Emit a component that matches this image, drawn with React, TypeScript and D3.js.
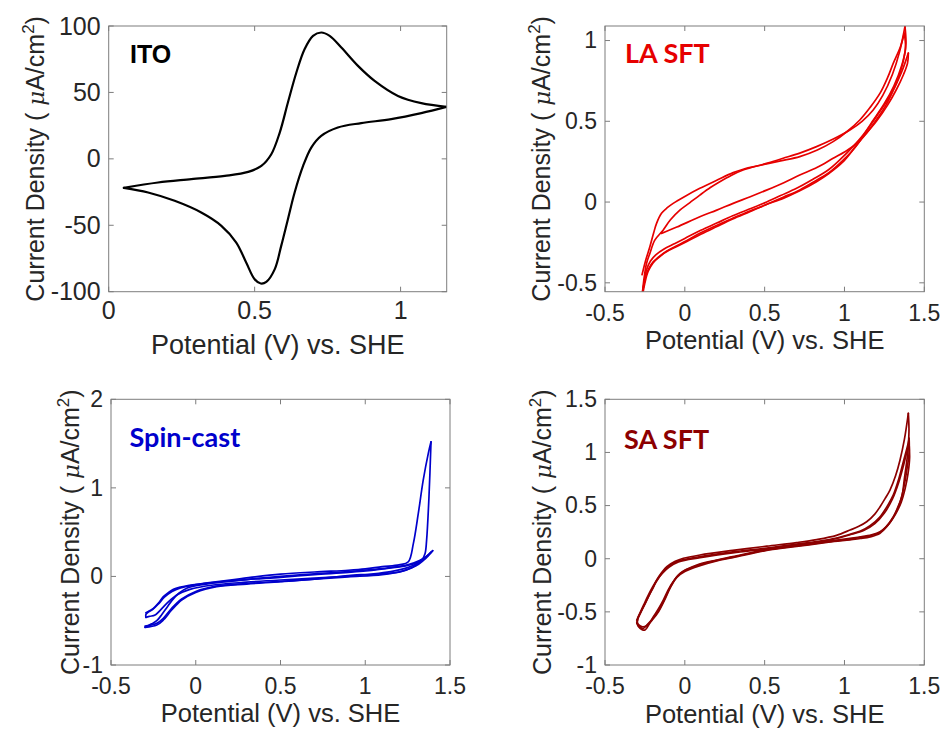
import React from 'react';
import * as d3 from 'd3';

type Pt = [number, number];

// ---------- ITO (single cycle, µA/cm²) ----------
const itoForward: Pt[] = [
  [0.052, -21.8], [0.169, -17.8], [0.283, -15.3], [0.398, -12.8], [0.478, -9.8], [0.523, -5.3],
  [0.557, 3.5], [0.586, 19.8], [0.614, 42.4], [0.643, 65], [0.671, 82.5], [0.7, 92.6], [0.728, 95.1],
  [0.757, 92.6], [0.797, 83.8], [0.854, 70], [0.911, 58.7], [0.991, 47.4], [1.071, 41.9], [1.157, 39.1],
];
const itoReverse: Pt[] = [
  [1.157, 39.1], [1.071, 34.4], [0.968, 29.9], [0.865, 26.9], [0.785, 23.6], [0.728, 17.3], [0.694, 8.5],
  [0.666, -5.3], [0.637, -25.3], [0.614, -45.4], [0.591, -65.5], [0.569, -83], [0.54, -92.6], [0.521, -93.8],
  [0.5, -90.6], [0.471, -78], [0.437, -63], [0.386, -50.4], [0.317, -40.4], [0.226, -31.6], [0.135, -25.3],
  [0.052, -21.8],
];

// ---------- LA SFT ----------
const laFwd0: Pt[] = [
  [-0.146, -0.194], [-0.05, -0.155], [0.094, -0.091], [0.2, -0.05], [0.303, -0.008], [0.41, 0.033],
  [0.512, 0.074], [0.62, 0.12], [0.72, 0.167], [0.83, 0.215], [0.929, 0.271], [1.0, 0.31], [1.06, 0.35],
  [1.14, 0.43], [1.2, 0.51], [1.26, 0.6], [1.31, 0.7], [1.36, 0.81], [1.4, 0.922],
];
const laRev0: Pt[] = [
  [1.4, 0.922], [1.395, 0.86], [1.37, 0.79], [1.327, 0.7], [1.27, 0.6], [1.2, 0.5], [1.138, 0.426],
  [1.07, 0.345], [0.992, 0.25], [0.9, 0.175], [0.825, 0.126], [0.72, 0.07], [0.616, 0.023], [0.5, -0.02],
  [0.407, -0.06], [0.3, -0.105], [0.198, -0.153], [0.1, -0.2], [0.01, -0.246], [-0.06, -0.28],
  [-0.115, -0.308], [-0.16, -0.34], [-0.198, -0.375], [-0.23, -0.43], [-0.25, -0.5], [-0.261, -0.556],
];
const laFwd1: Pt[] = [
  [-0.268, -0.45], [-0.245, -0.36], [-0.219, -0.277], [-0.195, -0.19], [-0.177, -0.132], [-0.146, -0.07],
  [-0.11, -0.035], [-0.073, -0.008], [0.0, 0.035], [0.094, 0.085], [0.2, 0.135], [0.303, 0.182],
  [0.38, 0.208], [0.449, 0.223], [0.53, 0.245], [0.616, 0.271], [0.72, 0.303], [0.825, 0.343],
  [0.93, 0.39], [1.034, 0.446], [1.11, 0.5], [1.18, 0.57], [1.24, 0.66], [1.3, 0.79], [1.345, 0.93],
  [1.379, 1.087],
];
const laRev1: Pt[] = [
  [1.379, 1.087], [1.385, 0.98], [1.37, 0.88], [1.327, 0.74], [1.265, 0.625], [1.2, 0.53], [1.138, 0.44],
  [1.06, 0.33], [0.992, 0.26], [0.9, 0.18], [0.825, 0.135], [0.72, 0.075], [0.616, 0.03], [0.5, -0.02],
  [0.407, -0.055], [0.3, -0.1], [0.198, -0.145], [0.1, -0.19], [0.01, -0.24], [-0.06, -0.275],
  [-0.115, -0.305], [-0.17, -0.345], [-0.198, -0.37], [-0.225, -0.41], [-0.245, -0.46], [-0.26, -0.53],
  [-0.265, -0.556],
];
const laFwd2: Pt[] = [
  [-0.265, -0.556], [-0.255, -0.47], [-0.24, -0.38], [-0.219, -0.318], [-0.188, -0.236], [-0.136, -0.174],
  [-0.09, -0.11], [-0.031, -0.05], [0.03, -0.005], [0.094, 0.043], [0.16, 0.09], [0.219, 0.126],
  [0.29, 0.165], [0.365, 0.198], [0.44, 0.22], [0.512, 0.236], [0.6, 0.255], [0.72, 0.281], [0.83, 0.322],
  [0.929, 0.374], [1.02, 0.44], [1.096, 0.508], [1.16, 0.585], [1.223, 0.674], [1.27, 0.77], [1.306, 0.86],
  [1.35, 0.96], [1.375, 1.045],
];
const laRev2: Pt[] = [
  [1.375, 1.045], [1.382, 0.95], [1.36, 0.85], [1.31, 0.72], [1.25, 0.61], [1.181, 0.508], [1.12, 0.42],
  [1.05, 0.34], [0.98, 0.27], [0.9, 0.2], [0.8, 0.14], [0.7, 0.085], [0.6, 0.04], [0.5, -0.005],
  [0.4, -0.045], [0.3, -0.085], [0.2, -0.13], [0.1, -0.175], [0.0, -0.225], [-0.07, -0.26], [-0.13, -0.29],
  [-0.18, -0.325], [-0.215, -0.365], [-0.24, -0.42], [-0.255, -0.5], [-0.262, -0.54],
];

// ---------- Spin-cast ----------
const scFwd1: Pt[] = [
  [-0.294, -0.41], [-0.27, -0.385], [-0.25, -0.36], [-0.22, -0.3], [-0.191, -0.229], [-0.16, -0.18],
  [-0.132, -0.146], [-0.09, -0.12], [-0.053, -0.105], [0.045, -0.078], [0.202, -0.041], [0.35, -0.005],
  [0.5, 0.025], [0.7, 0.05], [0.9, 0.07], [1.0, 0.085], [1.1, 0.11], [1.2, 0.13], [1.254, 0.166],
  [1.284, 0.374], [1.313, 0.712], [1.342, 1.088], [1.372, 1.39], [1.388, 1.52],
];
const scRev1: Pt[] = [
  [1.388, 1.52], [1.376, 0.9], [1.362, 0.41], [1.353, 0.26], [1.335, 0.19], [1.3, 0.14], [1.25, 0.1],
  [1.15, 0.055], [1.05, 0.03], [0.9, 0.01], [0.7, -0.03], [0.5, -0.06], [0.3, -0.086], [0.123, -0.116],
  [0.0, -0.18], [-0.083, -0.266], [-0.142, -0.379], [-0.191, -0.492], [-0.23, -0.549], [-0.299, -0.575],
];
const scFwd2: Pt[] = [
  [-0.299, -0.575], [-0.285, -0.56], [-0.26, -0.535], [-0.23, -0.5], [-0.2, -0.43], [-0.17, -0.35],
  [-0.14, -0.27], [-0.1, -0.19], [-0.05, -0.13], [0.05, -0.09], [0.2, -0.055], [0.35, -0.025], [0.5, 0.0],
  [0.7, 0.03], [0.9, 0.055], [1.05, 0.08], [1.15, 0.1], [1.25, 0.13], [1.32, 0.18], [1.37, 0.235],
  [1.398, 0.29],
];
const scRev2: Pt[] = [
  [1.398, 0.29], [1.375, 0.25], [1.345, 0.2], [1.323, 0.166], [1.28, 0.105], [1.205, 0.053], [1.1, 0.03],
  [0.9, 0.005], [0.7, -0.02], [0.5, -0.04], [0.3, -0.065], [0.104, -0.097], [-0.034, -0.146],
  [-0.112, -0.21], [-0.171, -0.304], [-0.24, -0.436], [-0.27, -0.45], [-0.294, -0.462],
];
const scFwd3: Pt[] = [
  [-0.294, -0.462], [-0.294, -0.43], [-0.285, -0.41], [-0.255, -0.375], [-0.22, -0.31], [-0.185, -0.235],
  [-0.14, -0.17], [-0.09, -0.13], [-0.02, -0.1], [0.1, -0.07], [0.3, -0.035], [0.5, -0.01], [0.7, 0.02],
  [0.9, 0.045], [1.05, 0.07], [1.15, 0.095], [1.25, 0.125], [1.32, 0.17], [1.39, 0.275],
];
const scRev3: Pt[] = [
  [1.39, 0.275], [1.37, 0.23], [1.34, 0.175], [1.3, 0.12], [1.22, 0.06], [1.1, 0.02], [0.9, -0.005],
  [0.7, -0.03], [0.5, -0.055], [0.3, -0.08], [0.12, -0.11], [0.0, -0.17], [-0.083, -0.255],
  [-0.142, -0.36], [-0.19, -0.47], [-0.23, -0.53], [-0.27, -0.55], [-0.299, -0.56],
];

// ---------- SA SFT ----------
const saFwd1: Pt[] = [
  [-0.301, -0.577], [-0.29, -0.54], [-0.27, -0.483], [-0.245, -0.41], [-0.218, -0.326], [-0.195, -0.26],
  [-0.176, -0.2], [-0.145, -0.13], [-0.113, -0.075], [-0.06, -0.025], [-0.009, 0.004], [0.095, 0.035],
  [0.3, 0.078], [0.513, 0.118], [0.7, 0.152], [0.826, 0.18], [0.95, 0.22], [1.035, 0.27], [1.09, 0.305],
  [1.139, 0.348], [1.19, 0.42], [1.223, 0.489], [1.254, 0.565], [1.285, 0.646], [1.32, 0.78],
  [1.348, 0.929], [1.375, 1.12], [1.4, 1.368],
];
const saRev1: Pt[] = [
  [1.4, 1.368], [1.404, 1.2], [1.395, 0.98], [1.375, 0.75], [1.359, 0.583], [1.33, 0.47], [1.306, 0.395],
  [1.26, 0.3], [1.223, 0.254], [1.17, 0.225], [1.1, 0.205], [1.035, 0.192], [0.9, 0.165], [0.826, 0.15],
  [0.7, 0.125], [0.513, 0.088], [0.3, 0.02], [0.2, -0.012], [0.075, -0.059], [-0.03, -0.137],
  [-0.093, -0.263], [-0.135, -0.389], [-0.165, -0.47], [-0.197, -0.546], [-0.225, -0.62], [-0.249, -0.671],
  [-0.27, -0.665], [-0.292, -0.635], [-0.3, -0.608],
];
const saFwd2: Pt[] = [
  [-0.3, -0.608], [-0.295, -0.57], [-0.28, -0.52], [-0.258, -0.45], [-0.232, -0.37], [-0.205, -0.29],
  [-0.18, -0.22], [-0.15, -0.15], [-0.115, -0.09], [-0.07, -0.04], [-0.01, -0.01], [0.095, 0.02],
  [0.3, 0.065], [0.513, 0.1], [0.7, 0.138], [0.826, 0.162], [0.95, 0.195], [1.035, 0.23], [1.1, 0.26],
  [1.16, 0.31], [1.22, 0.39], [1.27, 0.5], [1.306, 0.6], [1.34, 0.75], [1.37, 0.92], [1.395, 1.06],
  [1.405, 1.133],
];
const saRev2: Pt[] = [
  [1.405, 1.133], [1.405, 1.0], [1.39, 0.83], [1.37, 0.66], [1.345, 0.52], [1.31, 0.4], [1.27, 0.31],
  [1.223, 0.24], [1.16, 0.205], [1.1, 0.19], [1.035, 0.178], [0.9, 0.155], [0.7, 0.115], [0.513, 0.078],
  [0.3, 0.01], [0.2, -0.02], [0.095, -0.065], [0.0, -0.12], [-0.05, -0.175], [-0.09, -0.27], [-0.13, -0.4],
  [-0.165, -0.5], [-0.2, -0.57], [-0.24, -0.63], [-0.265, -0.64], [-0.29, -0.62], [-0.298, -0.595],
];
const saFwd3: Pt[] = [
  [-0.298, -0.595], [-0.292, -0.55], [-0.275, -0.49], [-0.25, -0.41], [-0.225, -0.33], [-0.2, -0.26],
  [-0.175, -0.2], [-0.14, -0.135], [-0.1, -0.08], [-0.04, -0.03], [0.095, 0.01], [0.3, 0.055],
  [0.513, 0.092], [0.7, 0.13], [0.826, 0.155], [0.95, 0.19], [1.035, 0.225], [1.12, 0.265], [1.19, 0.33],
  [1.25, 0.43], [1.3, 0.56], [1.34, 0.72], [1.37, 0.88], [1.39, 1.0], [1.405, 1.07],
];
const saRev3: Pt[] = [
  [1.405, 1.07], [1.408, 0.95], [1.398, 0.8], [1.38, 0.66], [1.355, 0.53], [1.32, 0.42], [1.28, 0.33],
  [1.223, 0.25], [1.16, 0.215], [1.1, 0.2], [1.035, 0.185], [0.9, 0.16], [0.7, 0.12], [0.513, 0.082],
  [0.3, 0.015], [0.2, -0.015], [0.095, -0.055], [0.0, -0.11], [-0.05, -0.17], [-0.09, -0.265],
  [-0.13, -0.39], [-0.165, -0.49], [-0.2, -0.56], [-0.235, -0.62], [-0.26, -0.655], [-0.285, -0.64],
  [-0.301, -0.6],
];

// ---------- tick values ----------
const itoXTicks = [0, 0.5, 1];
const itoYTicks = [-100, -50, 0, 50, 100];
const potentialTicks = [-0.5, 0, 0.5, 1, 1.5];
const laYTicks = [-0.5, 0, 0.5, 1];
const scYTicks = [-1, 0, 1, 2];
const saYTicks = [-1, -0.5, 0, 0.5, 1, 1.5];

const X_LABEL = 'Potential (V) vs. SHE';

interface PanelSpec {
  id: string;
  x0: number; y0: number; x1: number; y1: number;
  xDomain: [number, number];
  yDomain: [number, number];
  xTicks: number[];
  yTicks: number[];
  traces: Pt[][];
  color: string;
  strokeWidth: number;
  name: string;
  nameFont: string;
  nameSize: number;
  nameX: number; nameY: number;
  tickSize: number;
  xTickDy: number;
  xLabelSize: number;
  xLabelY: number;
  yLabelX: number;
}

const panels: PanelSpec[] = [
  {
    id: 'ito', x0: 108.7, y0: 26, x1: 446.7, y1: 291.7,
    xDomain: [0, 1.158], yDomain: [-100, 100], xTicks: itoXTicks, yTicks: itoYTicks,
    traces: [itoForward, itoReverse], color: '#000000', strokeWidth: 2.2,
    name: 'ITO', nameFont: '"Liberation Sans", Arial, sans-serif', nameSize: 25, nameX: 130, nameY: 63,
    tickSize: 25, xTickDy: 27, xLabelSize: 27, xLabelY: 354, yLabelX: 44,
  },
  {
    id: 'la', x0: 605, y0: 26, x1: 924.3, y1: 291.7,
    xDomain: [-0.5, 1.5], yDomain: [-0.555, 1.09], xTicks: potentialTicks, yTicks: laYTicks,
    traces: [laFwd0, laRev0, laFwd1, laRev1, laFwd2, laRev2], color: '#e60000', strokeWidth: 1.7,
    name: 'LA SFT', nameFont: 'Lato, "Open Sans", sans-serif', nameSize: 27, nameX: 625, nameY: 62.5,
    tickSize: 23, xTickDy: 29, xLabelSize: 25.5, xLabelY: 348.5, yLabelX: 550,
  },
  {
    id: 'sc', x0: 111, y0: 399.3, x1: 450, y1: 665,
    xDomain: [-0.5, 1.5], yDomain: [-1, 2], xTicks: potentialTicks, yTicks: scYTicks,
    traces: [scFwd1, scRev1, scFwd2, scRev2, scFwd3, scRev3], color: '#0000cc', strokeWidth: 1.7,
    name: 'Spin-cast', nameFont: 'Lato, "Open Sans", sans-serif', nameSize: 27, nameX: 129.5, nameY: 447,
    tickSize: 23, xTickDy: 29, xLabelSize: 25.5, xLabelY: 722, yLabelX: 79,
  },
  {
    id: 'sa', x0: 605, y0: 399.3, x1: 924.3, y1: 665,
    xDomain: [-0.5, 1.5], yDomain: [-1, 1.5], xTicks: potentialTicks, yTicks: saYTicks,
    traces: [saFwd1, saRev1, saFwd2, saRev2, saFwd3, saRev3], color: '#8c0000', strokeWidth: 1.7,
    name: 'SA SFT', nameFont: 'Lato, "Open Sans", sans-serif', nameSize: 27, nameX: 624, nameY: 449,
    tickSize: 23, xTickDy: 29, xLabelSize: 25.5, xLabelY: 723, yLabelX: 550.5,
  },
];

const AXIS_COLOR = '#7d7d7d';
const TEXT_COLOR = '#262626';
const TICK_LEN = 5;
const SANS = '"Liberation Sans", Arial, Helvetica, sans-serif';

function Panel({ p }: { p: PanelSpec }) {
  const x = d3.scaleLinear().domain(p.xDomain).range([p.x0, p.x1]);
  const y = d3.scaleLinear().domain(p.yDomain).range([p.y1, p.y0]);
  const line = d3
    .line<Pt>()
    .x((d) => x(d[0]))
    .y((d) => y(d[1]))
    .curve(d3.curveCatmullRom.alpha(0.5));
  const clipId = `clip-${p.id}`;
  const midX = (p.x0 + p.x1) / 2;
  const midY = (p.y0 + p.y1) / 2;

  return (
    <g>
      <defs>
        <clipPath id={clipId}>
          <rect x={p.x0} y={p.y0} width={p.x1 - p.x0} height={p.y1 - p.y0} />
        </clipPath>
      </defs>

      <g clipPath={`url(#${clipId})`}>
        {p.traces.map((t, i) => (
          <path
            key={i}
            d={line(t) || ''}
            fill="none"
            stroke={p.color}
            strokeWidth={p.strokeWidth}
            strokeLinejoin="round"
            strokeLinecap="round"
          />
        ))}
      </g>

      {/* axes box with inward ticks on all sides */}
      <rect x={p.x0} y={p.y0} width={p.x1 - p.x0} height={p.y1 - p.y0} fill="none" stroke={AXIS_COLOR} strokeWidth={1} />
      {p.xTicks.map((v) => (
        <g key={`xt${v}`}>
          <line x1={x(v)} x2={x(v)} y1={p.y1} y2={p.y1 - TICK_LEN} stroke={AXIS_COLOR} />
          <line x1={x(v)} x2={x(v)} y1={p.y0} y2={p.y0 + TICK_LEN} stroke={AXIS_COLOR} />
          <text
            x={x(v)}
            y={p.y1 + p.xTickDy}
            textAnchor="middle"
            fontFamily={SANS}
            fontSize={p.tickSize}
            fill={TEXT_COLOR}
          >
            {String(v)}
          </text>
        </g>
      ))}
      {p.yTicks.map((v) => (
        <g key={`yt${v}`}>
          <line x1={p.x0} x2={p.x0 + TICK_LEN} y1={y(v)} y2={y(v)} stroke={AXIS_COLOR} />
          <line x1={p.x1} x2={p.x1 - TICK_LEN} y1={y(v)} y2={y(v)} stroke={AXIS_COLOR} />
          <text
            x={p.x0 - 8}
            y={y(v)}
            dy="0.34em"
            textAnchor="end"
            fontFamily={SANS}
            fontSize={p.tickSize}
            fill={TEXT_COLOR}
          >
            {String(v)}
          </text>
        </g>
      ))}

      {/* axis titles */}
      <text x={midX} y={p.xLabelY} textAnchor="middle" fontFamily={SANS} fontSize={p.xLabelSize} fill={TEXT_COLOR}>
        {X_LABEL}
      </text>
      <text
        transform={`translate(${p.yLabelX},${midY}) rotate(-90)`}
        textAnchor="middle"
        fontFamily={SANS}
        fontSize={25}
        fill={TEXT_COLOR}
      >
        <tspan>{'Current Density ( '}</tspan>
        <tspan fontFamily='"DejaVu Serif", "Liberation Serif", serif' fontStyle="italic" fontSize={23}>
          μ
        </tspan>
        <tspan>A/cm</tspan>
        <tspan dy={-10} fontSize={17}>
          2
        </tspan>
        <tspan dy={10}>)</tspan>
      </text>

      {/* sample name */}
      <text x={p.nameX} y={p.nameY} fontFamily={p.nameFont} fontWeight="bold" fontSize={p.nameSize} fill={p.color}>
        {p.name}
      </text>
    </g>
  );
}

export default function App() {
  return (
    <svg
      width={944}
      height={730}
      viewBox="0 0 944 730"
      style={{ position: 'absolute', left: 0, top: 0, display: 'block', background: '#ffffff' }}
    >
      <rect x={0} y={0} width={944} height={730} fill="#ffffff" />
      {panels.map((p) => (
        <Panel key={p.id} p={p} />
      ))}
    </svg>
  );
}
